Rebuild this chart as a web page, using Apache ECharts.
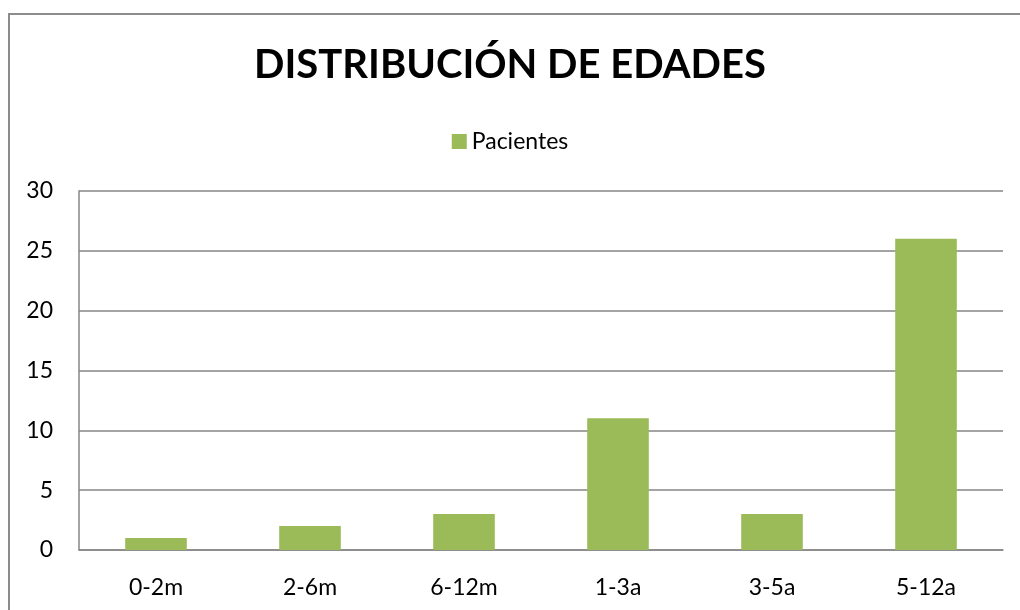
<!DOCTYPE html>
<html>
<head>
<meta charset="utf-8">
<script src="https://cdn.jsdelivr.net/npm/echarts@6/dist/echarts.min.js"></script>
<style>
  html, body { margin: 0; padding: 0; background: #fff; }
  #chart { width: 1020px; height: 610px; }
</style>
</head>
<body>
<div id="chart"></div>
<script>
// data
const categories = ["0-2m", "2-6m", "6-12m", "1-3a", "3-5a", "5-12a"];
const pacientes = [1, 2, 3, 11, 3, 26];
const yMin = 0;
const yMax = 30;
const yStep = 5;

const chart = echarts.init(document.getElementById("chart"));
const font = "Lato, 'Open Sans', sans-serif";

chart.setOption({
  animation: false,
  textStyle: { fontFamily: font },
  graphic: [
    {
      type: "rect",
      shape: { x: 9, y: 14, width: 1030, height: 620 },
      style: { fill: "none", stroke: "#8c8c8c", lineWidth: 2 },
      silent: true
    }
  ],
  title: {
    text: "DISTRIBUCIÓN DE EDADES",
    left: "center",
    top: 40,
    textStyle: { fontFamily: font, fontSize: 40, fontWeight: "bold", color: "#000" }
  },
  legend: {
    data: ["Pacientes"],
    top: 125,
    left: "center",
    itemWidth: 15,
    itemHeight: 15,
    itemGap: 8,
    icon: "rect",
    textStyle: { fontFamily: font, fontSize: 23, color: "#000" }
  },
  grid: {
    left: 79,
    right: 17,
    top: 191,
    bottom: 60,
    containLabel: false
  },
  xAxis: {
    type: "category",
    data: categories,
    axisTick: { show: false },
    axisLine: { lineStyle: { color: "#868686", width: 1.5 } },
    axisLabel: { color: "#000", fontSize: 23, margin: 26, fontFamily: font }
  },
  yAxis: {
    type: "value",
    min: yMin,
    max: yMax,
    interval: yStep,
    axisLine: { show: true, lineStyle: { color: "#868686", width: 1.5 } },
    axisTick: { show: false },
    axisLabel: { color: "#000", fontSize: 23, margin: 26, fontFamily: font },
    splitLine: { lineStyle: { color: "#868686", width: 1.5 } }
  },
  series: [
    {
      name: "Pacientes",
      type: "bar",
      data: pacientes,
      barWidth: "40%",
      itemStyle: { color: "#9BBB59" }
    }
  ]
});
</script>
</body>
</html>
